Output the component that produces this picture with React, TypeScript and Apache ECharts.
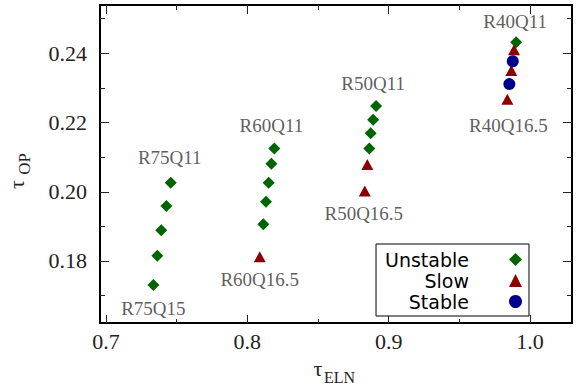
import React, { useEffect, useRef } from "react";
import * as echarts from "echarts";

// ---- data ----
const r75Unstable: number[][] = [
  [0.7335, 0.1731], [0.7363, 0.1815], [0.7391, 0.1889], [0.7427, 0.1959], [0.7458, 0.2026],
];
const r60Unstable: number[][] = [
  [0.8113, 0.1906], [0.8132, 0.1971], [0.8151, 0.2026], [0.817, 0.2081], [0.8191, 0.2125],
];
const r60Slow: number[][] = [[0.8088, 0.1812]];
const r50Unstable: number[][] = [
  [0.8863, 0.2125], [0.8873, 0.2169], [0.889, 0.2208], [0.8911, 0.2248],
];
const r50Slow: number[][] = [[0.8831, 0.2002], [0.8849, 0.2079]];
const r40Unstable: number[][] = [[0.9902, 0.2432]];
const r40Slow: number[][] = [[0.984, 0.2267], [0.9868, 0.235], [0.9887, 0.241]];
const r40Stable: number[][] = [[0.9854, 0.2311], [0.9878, 0.2377]];

const seriesNames = ["Unstable", "Slow", "Stable"];
const labelTexts = ["R75Q11", "R75Q15", "R60Q11", "R60Q16.5", "R50Q11", "R50Q16.5", "R40Q11", "R40Q16.5"];

const xMajor = [0.7, 0.8, 0.9, 1.0];
const xMinor = [0.75, 0.85, 0.95];
const yMajor = [0.18, 0.2, 0.22, 0.24];
const yMinor = [0.17, 0.19, 0.21, 0.23, 0.25];

const X_MIN = 0.69575;
const X_MAX = 1.02972;
const Y_MIN = 0.16209;
const Y_MAX = 0.25395;

const SERIF = "Liberation Serif";
const SANS = "DejaVu Sans";

export default function App() {
  const ref = useRef<HTMLDivElement>(null);

  useEffect(() => {
    document.body.style.margin = "0";
    if (!ref.current) return;
    const chart = echarts.init(ref.current, null, { renderer: "svg" });

    const anchors = [
      r75Unstable[r75Unstable.length - 1],
      r75Unstable[0],
      r60Unstable[r60Unstable.length - 1],
      r60Slow[0],
      r50Unstable[r50Unstable.length - 1],
      r50Slow[0],
      r40Unstable[0],
      r40Slow[0],
    ];
    const offsets = [
      [-1, -25], [0, 24], [-3, -23], [0, 23], [-3, -22], [-1, 22], [-1, -21], [1, 26],
    ];
    const labelData = labelTexts.map((t, i) => ({
      name: t,
      value: anchors[i],
      label: { offset: offsets[i] },
    }));

    const xBase = {
      type: "value",
      min: X_MIN,
      max: X_MAX,
      gridIndex: 0,
      splitLine: { show: false },
      axisLine: { show: false },
    };
    const yBase = {
      type: "value",
      min: Y_MIN,
      max: Y_MAX,
      gridIndex: 0,
      splitLine: { show: false },
      axisLine: { show: false },
    };
    const tickStyle = { color: "#222", width: 1 };
    const noLabel = { show: false };

    chart.setOption({
      animation: false,
      grid: {
        left: 100,
        top: 5,
        right: 7,
        bottom: 65,
        show: true,
        borderColor: "#000",
        borderWidth: 2,
      },
      xAxis: [
        {
          ...xBase,
          position: "bottom",
          axisTick: { inside: true, length: 8, customValues: xMajor, lineStyle: tickStyle },
          axisLabel: {
            customValues: xMajor,
            formatter: (v: number) => v.toFixed(1),
            margin: 7,
            fontFamily: SERIF,
            fontSize: 22,
            color: "#222",
          },
        },
        { ...xBase, position: "bottom", axisTick: { inside: true, length: 4, customValues: xMinor, lineStyle: tickStyle }, axisLabel: noLabel },
        { ...xBase, position: "top", axisTick: { inside: true, length: 9, customValues: xMajor, lineStyle: tickStyle }, axisLabel: noLabel },
        { ...xBase, position: "top", axisTick: { inside: true, length: 5, customValues: xMinor, lineStyle: tickStyle }, axisLabel: noLabel },
      ],
      yAxis: [
        {
          ...yBase,
          position: "left",
          axisTick: { inside: true, length: 9, customValues: yMajor, lineStyle: tickStyle },
          axisLabel: {
            customValues: yMajor,
            formatter: (v: number) => v.toFixed(2),
            margin: 13,
            fontFamily: SERIF,
            fontSize: 22,
            color: "#222",
          },
        },
        { ...yBase, position: "left", axisTick: { inside: true, length: 5, customValues: yMinor, lineStyle: tickStyle }, axisLabel: noLabel },
        { ...yBase, position: "right", axisTick: { inside: true, length: 9, customValues: yMajor, lineStyle: tickStyle }, axisLabel: noLabel },
        { ...yBase, position: "right", axisTick: { inside: true, length: 5, customValues: yMinor, lineStyle: tickStyle }, axisLabel: noLabel },
      ],
      legend: {
        data: seriesNames,
        orient: "vertical",
        right: 50,
        top: 244,
        align: "right",
        itemWidth: 13,
        itemHeight: 13,
        itemGap: 0,
        padding: [5, 7, 4, 9],
        borderColor: "#000",
        borderWidth: 1,
        backgroundColor: "#fff",
        selectedMode: false,
        textStyle: {
          fontFamily: SANS,
          fontSize: 19,
          color: "#000",
          lineHeight: 21,
          padding: [0, 35, 0, 0],
        },
      },
      series: [
        {
          name: "Unstable",
          type: "scatter",
          xAxisIndex: 0,
          yAxisIndex: 0,
          symbol: "diamond",
          symbolSize: 12,
          itemStyle: { color: "#006400", opacity: 1 },
          data: [...r75Unstable, ...r60Unstable, ...r50Unstable, ...r40Unstable],
        },
        {
          name: "Slow",
          type: "scatter",
          xAxisIndex: 0,
          yAxisIndex: 0,
          symbol: "triangle",
          symbolSize: [12, 11],
          itemStyle: { color: "#8b0000", opacity: 1 },
          data: [...r60Slow, ...r50Slow, ...r40Slow],
        },
        {
          name: "Stable",
          type: "scatter",
          xAxisIndex: 0,
          yAxisIndex: 0,
          symbol: "circle",
          symbolSize: 12,
          itemStyle: { color: "#00008b", opacity: 1 },
          data: [...r40Stable],
        },
        {
          name: "labels",
          type: "scatter",
          xAxisIndex: 0,
          yAxisIndex: 0,
          symbolSize: 0,
          silent: true,
          itemStyle: { color: "transparent" },
          label: {
            show: true,
            position: "inside",
            formatter: "{b}",
            fontFamily: SERIF,
            fontSize: 19,
            color: "#333",
          },
          data: labelData,
        },
      ],
      graphic: [
        {
          type: "text",
          x: 318,
          y: 368,
          style: { text: "τ", fontFamily: SERIF, fontSize: 22, fill: "#222", align: "center", verticalAlign: "middle" },
        },
        {
          type: "text",
          x: 324,
          y: 377.5,
          style: { text: "ELN", fontFamily: SERIF, fontSize: 16, fill: "#222", align: "left", verticalAlign: "middle" },
        },
        {
          type: "text",
          x: 16,
          y: 184.5,
          rotation: Math.PI / 2,
          style: { text: "τ", fontFamily: SERIF, fontSize: 22, fill: "#222", align: "center", verticalAlign: "middle" },
        },
        {
          type: "text",
          x: 24,
          y: 164,
          rotation: Math.PI / 2,
          style: { text: "OP", fontFamily: SERIF, fontSize: 17, fill: "#222", align: "center", verticalAlign: "middle" },
        },
      ],
    });

    return () => chart.dispose();
  }, []);

  return (
    <div
      ref={ref}
      style={{ position: "absolute", left: 0, top: 0, width: 579, height: 388 }}
    />
  );
}
